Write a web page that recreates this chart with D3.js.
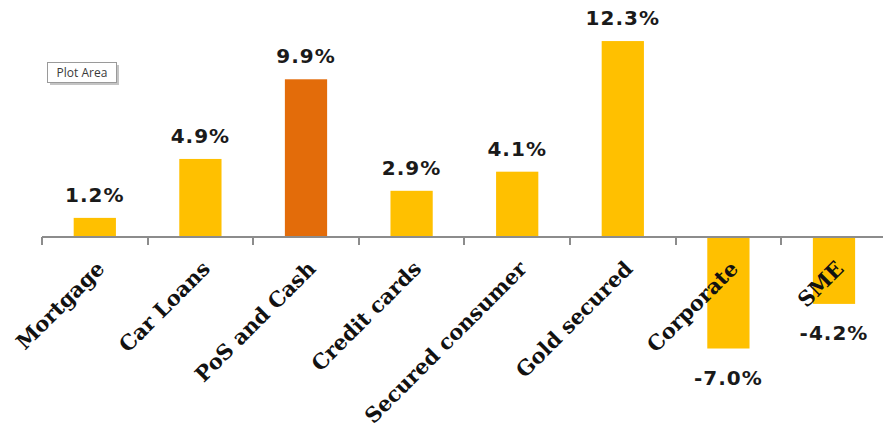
<!DOCTYPE html>
<html>
<head>
<meta charset="utf-8">
<script src="https://cdn.jsdelivr.net/npm/d3@7"></script>
<style>
  html, body { margin: 0; padding: 0; background: #fff; }
  svg { display: block; }
</style>
</head>
<body>
<svg id="chart" width="883" height="427"></svg>
<script>
// Loan book growth by segment
const categories = ["Mortgage", "Car Loans", "PoS and Cash", "Credit cards",
                    "Secured consumer", "Gold secured", "Corporate", "SME"];
const values = [1.2, 4.9, 9.9, 2.9, 4.1, 12.3, -7.0, -4.2];
const highlighted = ["PoS and Cash"];

const svg = d3.select("#chart");
const W = 883, H = 427;
const zeroY = 237;
const pxPerUnit = 15.93;

const x = d3.scaleBand()
  .domain(categories)
  .range([42, 42 + 105.6 * categories.length])
  .paddingInner(0.6)
  .paddingOuter(0.3);

const y = d3.scaleLinear()
  .domain([-7.0, 12.3])
  .range([zeroY + 7.0 * pxPerUnit, zeroY - 12.3 * pxPerUnit]);

// Bars
svg.append("g").selectAll("rect")
  .data(categories)
  .join("rect")
  .attr("x", d => x(d))
  .attr("width", x.bandwidth())
  .attr("y", (d, i) => Math.min(y(values[i]), y(0)))
  .attr("height", (d, i) => Math.abs(y(values[i]) - y(0)))
  .attr("fill", d => highlighted.includes(d) ? "#E36C0A" : "#FFC000");

// Category axis along zero
const axisG = svg.append("g")
  .attr("transform", `translate(0,${y(0)})`);
axisG.append("path")
  .attr("fill", "none")
  .attr("stroke", "#8c8c8c").attr("stroke-width", 2)
  .attr("d", `M42,0H${W}`);
// ticks between categories
const edges = d3.range(categories.length + 1).map(i => 42 + 105.6 * i);
axisG.selectAll("line.sep")
  .data(edges)
  .join("line")
  .attr("class", "sep")
  .attr("x1", d => Math.round(d))
  .attr("x2", d => Math.round(d))
  .attr("y1", 0)
  .attr("y2", 8)
  .attr("stroke", "#8c8c8c")
  .attr("stroke-width", 2);

// Rotated category labels
svg.append("g").selectAll("text")
  .data(categories)
  .join("text")
  .attr("transform", d => `translate(${x(d) + x.bandwidth() / 2 + 11},${y(0) + 33}) rotate(-45)`)
  .attr("text-anchor", "end")
  .attr("font-family", "'DejaVu Serif', 'Liberation Serif', serif")
  .attr("font-weight", "bold")
  .attr("font-size", 21)
  .attr("fill", "#111")
  .text(d => d);

// Value labels
svg.append("g").selectAll("text")
  .data(categories)
  .join("text")
  .attr("x", d => x(d) + x.bandwidth() / 2)
  .attr("y", (d, i) => values[i] >= 0 ? y(values[i]) - 16 : y(values[i]) + 36)
  .attr("text-anchor", "middle")
  .attr("font-family", "'DejaVu Sans', sans-serif")
  .attr("font-weight", "bold")
  .attr("font-size", 20)
  .attr("letter-spacing", 1)
  .attr("fill", "#1a1a1a")
  .text((d, i) => values[i].toFixed(1) + "%");

// "Plot Area" hover tag
const tag = svg.append("g").attr("transform", "translate(47,62)");
tag.append("rect").attr("x", 3).attr("y", 3).attr("width", 69).attr("height", 20).attr("fill", "#c4c4c4");
tag.append("rect").attr("x", 0.5).attr("y", 0.5).attr("width", 69).attr("height", 20)
  .attr("fill", "#fff").attr("stroke", "#9a9a9a");
tag.append("text").attr("x", 35).attr("y", 15).attr("text-anchor", "middle")
  .attr("font-family", "'Open Sans', sans-serif").attr("font-size", 12).attr("fill", "#3a3a3a")
  .text("Plot Area");
</script>
</body>
</html>
